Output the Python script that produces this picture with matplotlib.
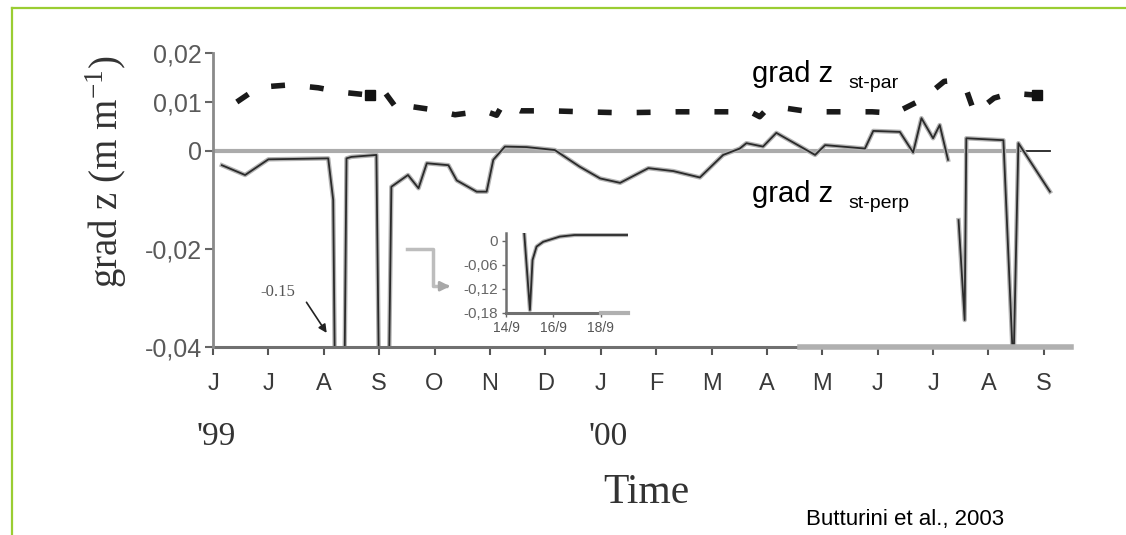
import numpy as np
import matplotlib.pyplot as plt
from matplotlib.lines import Line2D

plt.rcParams['font.family'] = ['Liberation Sans', 'DejaVu Sans']
plt.rcParams['mathtext.fontset'] = 'custom'
plt.rcParams['mathtext.rm'] = 'Liberation Serif'

# x = month index, 0 = June 1999 ... 15 = September 2000
months = ['J', 'J', 'A', 'S', 'O', 'N', 'D', 'J', 'F', 'M', 'A', 'M', 'J', 'J', 'A', 'S']
yticks = [0.02, 0.01, 0, -0.02, -0.04]
ytick_labels = ['0,02', '0,01', '0', '-0,02', '-0,04']

# grad z st-par (dashed, upper series)
par_t = [0.43, 0.82, 1.39, 1.90, 2.32, 2.83, 3.10, 3.38, 3.62, 3.92, 4.37, 4.90,
         5.12, 5.24, 5.55, 6.10, 6.68, 7.38, 8.40, 8.80, 9.70, 9.87, 9.99, 10.30,
         10.78, 11.35, 11.90, 12.34, 12.43, 12.80, 13.20, 13.36, 13.60, 13.75,
         14.10, 14.40, 14.87]
par_v = [0.0100, 0.0130, 0.0135, 0.0129, 0.0120, 0.0114, 0.0120, 0.0077, 0.0090,
         0.0085, 0.0074, 0.0082, 0.0073, 0.0097, 0.0082, 0.0082, 0.0080, 0.0078,
         0.0080, 0.0080, 0.0080, 0.0070, 0.0084, 0.0088, 0.0080, 0.0080, 0.0080,
         0.0077, 0.0084, 0.0105, 0.0142, 0.0144, 0.0125, 0.0077, 0.0108, 0.0118,
         0.0114]
par_big_t = [2.83, 14.87]
par_big_v = [0.0114, 0.0114]

# grad z st-perp (solid, lower series), nan = gap
perp_t = [0.16, 0.58, 1.00, 2.08, 2.17, 2.29, 2.41, 2.50, 2.95, 3.01, 3.16, 3.22,
          3.52, 3.71, 3.86, 4.25, 4.40, 4.76, 4.94, 5.06, 5.27, 5.66, 6.17, 6.62,
          6.99, 7.35, 7.86, 8.31, 8.79, 9.21, 9.51, 9.63, 9.93, 10.17, 10.87,
          11.05, 11.77, 11.92, 12.40, 12.64, 12.79, 13.00, 13.12, 13.27, np.nan,
          13.46, 13.57, 13.60, 14.27, 14.45, 14.54, 15.11]
perp_v = [-0.0029, -0.0049, -0.0017, -0.0015, -0.010, -0.15, -0.0015, -0.0012,
          -0.0008, -0.06, -0.06, -0.0073, -0.0049, -0.0076, -0.0025, -0.0029,
          -0.0060, -0.0083, -0.0083, -0.0018, 0.0009, 0.0008, 0.0002, -0.0032,
          -0.0056, -0.0065, -0.0035, -0.0041, -0.0054, -0.0008, 0.0005, 0.0016,
          0.0009, 0.0037, -0.0008, 0.0012, 0.0005, 0.0041, 0.0039, -0.0003,
          0.0067, 0.0026, 0.0053, -0.0018, np.nan, -0.0141, -0.0345, 0.0026,
          0.0022, -0.045, 0.0016, -0.0083]

# zero reference line
zero_gray_t = [0, 14.5]
zero_dark_t = [14.54, 15.11]

# inset: zoom on mid-September 1999
inset_t = [14.72, 14.77, 15.01, 15.12, 15.29, 15.57, 16.27, 16.9, 19.15]
inset_v = [0.03, 0.019, -0.1725, -0.0475, -0.014, -0.002, 0.011, 0.015, 0.015]
inset_yticks = [0, -0.06, -0.12, -0.18]
inset_ylabels = ['0', '-0,06', '-0,12', '-0,18']
inset_xticks = [14, 16, 18]
inset_xlabels = ['14/9', '16/9', '18/9']

W, H = 1126, 535
fig = plt.figure(figsize=(W / 100, H / 100), dpi=100)
ax = fig.add_axes([213 / W, 1 - 347 / H, (1071 - 213) / W, (347 - 53) / H])

ax.plot(zero_gray_t, [0, 0], color='#ababab', lw=3, solid_capstyle='butt')
ax.plot(zero_dark_t, [0, 0], color='#222222', lw=1.3)

ax.plot(perp_t, perp_v, color='#b4b4b4', lw=3.2)
ax.plot(perp_t, perp_v, color='#2a2a2a', lw=1.3)

ax.plot(par_t, par_v, color='#1a1a1a', lw=4, dashes=(2.5, 4.5), solid_capstyle='butt')
ax.plot(par_big_t, par_big_v, 's', color='#111111', ms=7)

ax.set_xlim(0, 15.49)
ax.set_ylim(-0.04, 0.02)
ax.set_xticks(range(len(months)))
ax.set_xticklabels(months, fontsize=17, color='#3a3a3a')
ax.set_yticks(yticks)
ax.set_yticklabels(ytick_labels, fontsize=18, color='#5a5a5a')
ax.tick_params(axis='x', direction='out', length=6, width=1.5, color='#555555', pad=13)
ax.tick_params(axis='y', direction='out', length=6, width=1.5, color='#666666', pad=2)
for s in ['top', 'right', 'bottom']:
    ax.spines[s].set_visible(False)
ax.spines['left'].set_color('#8a8a8a')
ax.spines['left'].set_linewidth(2)

# bottom axis line: dark on the left, lighter grey on the right
ax.plot([0, 10.6], [-0.04, -0.04], color='#707070', lw=2.2, clip_on=False)
ax.plot([10.6, 15.49], [-0.04, -0.04], color='#b0b0b0', lw=4, clip_on=False)

# arrow to the off-scale minimum
ax.annotate('', xy=(2.08, -0.0376), xytext=(1.66, -0.0304),
            arrowprops=dict(arrowstyle='-|>', color='#222222', lw=1.2, mutation_scale=12))
ax.text(0.85, -0.0287, '-0.15', family=['Liberation Serif'], fontsize=12,
        color='#555555', va='center')

# grey pointer to the inset
ax.plot([3.50, 3.97, 3.97, 4.20], [-0.0201, -0.0201, -0.0276, -0.0276],
        color='#bdbdbd', lw=2.5)
ax.annotate('', xy=(4.33, -0.0276), xytext=(4.15, -0.0276),
            arrowprops=dict(arrowstyle='-|>', color='#a8a8a8', lw=2, mutation_scale=14))

# inset
ins = fig.add_axes([506 / W, 1 - 313 / H, (628 - 506) / W, (313 - 233) / H])
ins.patch.set_alpha(0)
ins.plot(inset_t, inset_v, color='#b4b4b4', lw=3)
ins.plot(inset_t, inset_v, color='#2a2a2a', lw=1.3)
ins.set_xlim(14, 19.15)
ins.set_ylim(-0.18, 0.02)
ins.set_yticks(inset_yticks)
ins.set_yticklabels(inset_ylabels, fontsize=11, color='#666666')
ins.set_xticks(inset_xticks)
ins.set_xticklabels(inset_xlabels, fontsize=10, color='#555555')
ins.tick_params(direction='out', length=3, width=1, color='#666666', pad=3)
for s in ['top', 'right', 'bottom']:
    ins.spines[s].set_visible(False)
ins.spines['left'].set_color('#707070')
ins.spines['left'].set_linewidth(1.8)
ins.plot([14, 18.0], [-0.18, -0.18], color='#707070', lw=2.2, clip_on=False)
ins.plot([18.0, 19.15], [-0.18, -0.18], color='#b0b0b0', lw=3, clip_on=False)

# texts
fig.text(106 / W, 1 - 172 / H, 'grad z (m m$^{-1}$)', rotation=90, family=['Liberation Serif'],
         fontsize=28, ha='center', va='center', color='#333333')
fig.text(216 / W, 1 - 437 / H, "'99", family=['Liberation Serif'], fontsize=24,
         ha='center', va='center', color='#333333')
fig.text(608 / W, 1 - 437 / H, "'00", family=['Liberation Serif'], fontsize=24,
         ha='center', va='center', color='#333333')
fig.text(646 / W, 1 - 493 / H, 'Time', family=['Liberation Serif'], fontsize=30,
         ha='center', va='center', color='#333333')

fig.text(752 / W, 1 - 82 / H, 'grad z', fontsize=21, va='baseline')
fig.text(848 / W, 1 - 88 / H, 'st-par', fontsize=14, va='baseline')
fig.text(752 / W, 1 - 202 / H, 'grad z', fontsize=21, va='baseline')
fig.text(848 / W, 1 - 208 / H, 'st-perp', fontsize=14, va='baseline')
fig.text(806 / W, 1 - 525 / H, 'Butturini et al., 2003', fontsize=16, va='baseline')

# green frame
green = '#9acd32'
fig.add_artist(Line2D([12 / W, 12 / W], [0, 1 - 8 / H], color=green, lw=1.6,
                      transform=fig.transFigure))
fig.add_artist(Line2D([12 / W, 1], [1 - 8 / H, 1 - 8 / H], color=green, lw=1.6,
                      transform=fig.transFigure))

fig.savefig('out.png', dpi=100)
